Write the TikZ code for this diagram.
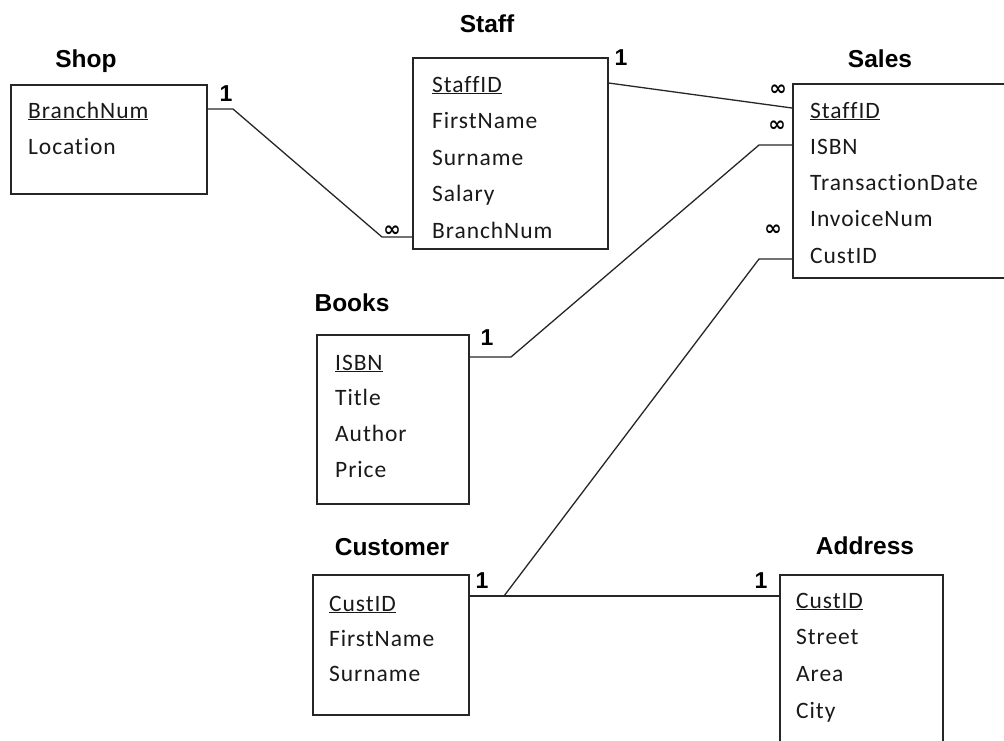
\documentclass[tikz,border=0pt]{standalone}
\usepackage{fontspec}
\setmainfont{Carlito}[LetterSpace=4.0, Ligatures=NoCommon]
\newfontfamily\headfont{Liberation Sans}
\newfontfamily\symfont{DejaVu Sans}
\begin{document}
\begin{tikzpicture}[x=1pt,y=-1pt,
  tbl/.style={draw=black!85, line width=1.6pt, anchor=north west, inner sep=0pt},
  fld/.style={anchor=base west, inner sep=0pt, font=\fontsize{23.5}{28}\selectfont, text=black!90},
  ttl/.style={anchor=base, inner sep=0pt, font=\headfont\bfseries\fontsize{24.5}{28}\selectfont},
  one/.style={anchor=base, inner sep=0pt, font=\headfont\bfseries\fontsize{23}{26}\selectfont},
  many/.style={anchor=center, inner sep=0pt, font=\symfont\bfseries\fontsize{21}{23}\selectfont},
  link/.style={draw=black!85, line width=1.3pt}]
\useasboundingbox (0,0) rectangle (1004,740);
\clip (0,0) rectangle (1004,740);

% tables
\node[tbl, minimum width=196pt, minimum height=109pt] (shop) at (10,84) {};
\node[tbl, minimum width=195pt, minimum height=191pt] (staff) at (412,57) {};
\node[tbl, minimum width=240pt, minimum height=194pt] (sales) at (792,83) {};
\node[tbl, minimum width=152pt, minimum height=169pt] (books) at (316,334) {};
\node[tbl, minimum width=156pt, minimum height=140pt] (cust) at (312,574) {};
\node[tbl, minimum width=163pt, minimum height=200pt] (addr) at (779,574) {};

% table titles
\node[ttl] (shopT) at (86,67) {Shop};
\node[ttl] (staffT) at (487,32) {Staff};
\node[ttl] (salesT) at (880,67) {Sales};
\node[ttl] (booksT) at (352,311) {Books};
\node[ttl] (custT) at (392,555) {Customer};
\node[ttl] (addrT) at (865,554) {Address};

% fields
\foreach \t [count=\i] in {{\underline{BranchNum}}, Location}
  \node[fld] (shop-\i) at (28,{118+36*(\i-1)}) {\t};
\foreach \t [count=\i] in {{\underline{StaffID}}, FirstName, Surname, Salary, BranchNum}
  \node[fld] (staff-\i) at (432,{92+36.6*(\i-1)}) {\t};
\foreach \t [count=\i] in {{\underline{StaffID}}, ISBN, TransactionDate, InvoiceNum, CustID}
  \node[fld] (sales-\i) at (810,{118+36.3*(\i-1)}) {\t};
\foreach \t [count=\i] in {{\underline{ISBN}}, Title, Author, Price}
  \node[fld] (books-\i) at (335,{370+35.7*(\i-1)}) {\t};
\foreach \t [count=\i] in {{\underline{CustID}}, FirstName, Surname}
  \node[fld] (cust-\i) at (329,{611+35*(\i-1)}) {\t};
\foreach \t [count=\i] in {{\underline{CustID}}, Street, Area, City}
  \node[fld] (addr-\i) at (796,{608+36.7*(\i-1)}) {\t};

% relationship bends
\coordinate (sh1) at (233,109);
\coordinate (sh2) at (382,237);
\coordinate (bk1) at (759,145);
\coordinate (bk2) at (511,357);
\coordinate (cs1) at (759,259);
\coordinate (cs2) at (504,596);

% relationships
\draw[link] (shop.east |- sh1) -- (sh1) -- (sh2) -- (staff.west |- sh2);
\draw[link] (staff.east |- 0,83) -- (sales.west |- 0,108);
\draw[link] (sales.west |- bk1) -- (bk1) -- (bk2) -- (books.east |- bk2);
\draw[link] (sales.west |- cs1) -- (cs1) -- (cs2);
\draw[link] (cust.east |- cs2) -- (addr.west |- cs2);

% cardinalities
\node[one] (c1) at (226,101) {1};
\node[many] (m1) at (392,231) {∞};
\node[one] (c2) at (621,65) {1};
\node[many] (m2) at (778,90) {∞};
\node[one] (c3) at (487,345) {1};
\node[many] (m3) at (777,126) {∞};
\node[many] (m4) at (773,230) {∞};
\node[one] (c4) at (482,588) {1};
\node[one] (c5) at (761,588) {1};
\end{tikzpicture}
\end{document}
